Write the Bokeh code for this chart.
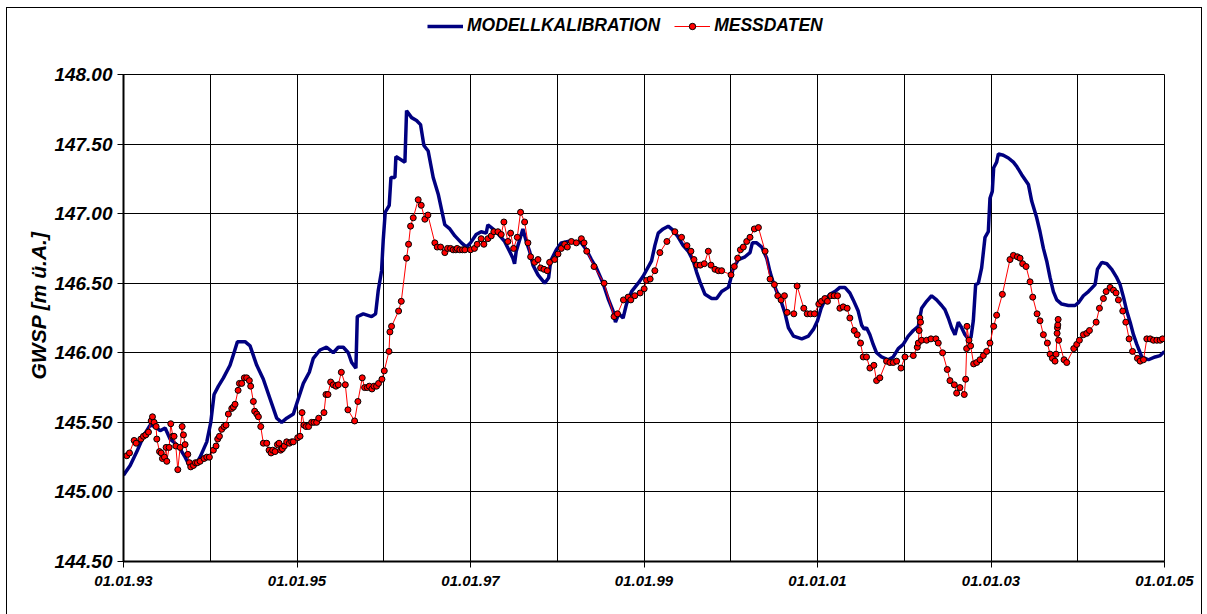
from bokeh.plotting import figure
from bokeh.layouts import column
from bokeh.models import FixedTicker, Legend, LegendItem, PrintfTickFormatter, Title
from bokeh.embed import file_html
from bokeh.resources import INLINE

# Groundwater level (GWSP) – calibrated model vs. measured values, 1993-2005
model_year = [
    1993.000, 1993.077, 1993.154, 1993.230, 1993.307, 1993.365, 1993.422, 1993.480,
    1993.537, 1993.595, 1993.653, 1993.710, 1993.768, 1993.825, 1993.883, 1993.960,
    1994.006, 1994.044, 1994.094, 1994.152, 1994.228, 1994.274, 1994.313, 1994.401,
    1994.459, 1994.536, 1994.612, 1994.689, 1994.766, 1994.823, 1994.881, 1994.958,
    1995.015, 1995.073, 1995.142, 1995.188, 1995.265, 1995.342, 1995.418, 1995.476,
    1995.534, 1995.591, 1995.630, 1995.679, 1995.695, 1995.764, 1995.860, 1995.906,
    1995.937, 1995.975, 1995.994, 1996.017, 1996.063, 1996.083, 1996.129, 1996.140,
    1996.244, 1996.263, 1996.321, 1996.378, 1996.424, 1996.463, 1996.512, 1996.570,
    1996.628, 1996.704, 1996.762, 1996.820, 1996.896, 1996.954, 1997.000, 1997.065,
    1997.123, 1997.181, 1997.200, 1997.258, 1997.296, 1997.354, 1997.393, 1997.450,
    1997.489, 1997.508, 1997.527, 1997.566, 1997.604, 1997.643, 1997.681, 1997.720,
    1997.778, 1997.855, 1997.901, 1997.924, 1997.989, 1998.047, 1998.124, 1998.201,
    1998.278, 1998.336, 1998.394, 1998.451, 1998.528, 1998.586, 1998.644, 1998.671,
    1998.709, 1998.759, 1998.798, 1998.856, 1998.933, 1998.990, 1999.087, 1999.125,
    1999.164, 1999.221, 1999.279, 1999.337, 1999.395, 1999.452, 1999.510, 1999.568,
    1999.606, 1999.645, 1999.703, 1999.780, 1999.837, 1999.895, 1999.972, 1999.991,
    2000.030, 2000.088, 2000.165, 2000.222, 2000.249, 2000.299, 2000.357, 2000.415,
    2000.453, 2000.492, 2000.530, 2000.580, 2000.627, 2000.665, 2000.723, 2000.819,
    2000.896, 2000.954, 2001.000, 2001.042, 2001.085, 2001.142, 2001.200, 2001.258,
    2001.315, 2001.373, 2001.412, 2001.469, 2001.508, 2001.538, 2001.565, 2001.604,
    2001.642, 2001.681, 2001.738, 2001.815, 2001.873, 2001.931, 2001.988, 2002.046,
    2002.104, 2002.162, 2002.200, 2002.258, 2002.315, 2002.373, 2002.431, 2002.469,
    2002.508, 2002.546, 2002.585, 2002.623, 2002.662, 2002.700, 2002.738, 2002.769,
    2002.796, 2002.823, 2002.854, 2002.892, 2002.931, 2002.969, 2002.988, 2003.015,
    2003.031, 2003.065, 2003.085, 2003.142, 2003.200, 2003.258, 2003.296, 2003.354,
    2003.431, 2003.469, 2003.527, 2003.565, 2003.604, 2003.642, 2003.681, 2003.719,
    2003.758, 2003.815, 2003.892, 2003.969, 2004.008, 2004.065, 2004.123, 2004.200,
    2004.227, 2004.277, 2004.335, 2004.392, 2004.450, 2004.488, 2004.527, 2004.565,
    2004.604, 2004.642, 2004.681, 2004.738, 2004.815, 2004.892, 2004.950, 2005.000,
]
model_level = [
    145.12, 145.19, 145.29, 145.40, 145.48, 145.47, 145.44, 145.46,
    145.38, 145.35, 145.31, 145.25, 145.18, 145.19, 145.25, 145.36,
    145.50, 145.70, 145.76, 145.82, 145.91, 146.00, 146.08, 146.08,
    146.05, 145.91, 145.81, 145.67, 145.53, 145.50, 145.53, 145.56,
    145.67, 145.78, 145.86, 145.96, 146.02, 146.04, 146.00, 146.04,
    146.04, 146.00, 145.93, 145.89, 146.26, 146.28, 146.26, 146.28,
    146.45, 146.59, 146.81, 147.01, 147.06, 147.26, 147.26, 147.41,
    147.37, 147.74, 147.69, 147.67, 147.64, 147.49, 147.45, 147.26,
    147.14, 146.92, 146.89, 146.84, 146.79, 146.76, 146.79, 146.85,
    146.87, 146.86, 146.92, 146.89, 146.87, 146.83, 146.80, 146.73,
    146.68, 146.64, 146.73, 146.81, 146.89, 146.80, 146.73, 146.63,
    146.56, 146.50, 146.54, 146.66, 146.74, 146.79, 146.80, 146.80,
    146.79, 146.74, 146.67, 146.61, 146.50, 146.39, 146.30, 146.22,
    146.28, 146.25, 146.35, 146.44, 146.50, 146.55, 146.66, 146.77,
    146.86, 146.89, 146.91, 146.88, 146.83, 146.77, 146.73, 146.66,
    146.58, 146.51, 146.42, 146.39, 146.39, 146.44, 146.47, 146.51,
    146.61, 146.67, 146.69, 146.72, 146.79, 146.79, 146.76, 146.68,
    146.58, 146.50, 146.44, 146.37, 146.28, 146.18, 146.12, 146.10,
    146.12, 146.17, 146.23, 146.32, 146.38, 146.42, 146.44, 146.47,
    146.47, 146.43, 146.38, 146.30, 146.20, 146.17, 146.18, 146.13,
    146.06, 146.00, 145.97, 145.95, 145.97, 146.03, 146.06, 146.12,
    146.16, 146.19, 146.32, 146.37, 146.41, 146.38, 146.34, 146.31,
    146.25, 146.18, 146.13, 146.22, 146.18, 146.13, 146.10, 146.11,
    146.23, 146.49, 146.50, 146.61, 146.83, 146.87, 147.11, 147.16,
    147.33, 147.37, 147.43, 147.42, 147.40, 147.37, 147.34, 147.28,
    147.21, 147.09, 146.97, 146.87, 146.75, 146.66, 146.54, 146.44,
    146.38, 146.35, 146.34, 146.34, 146.36, 146.41, 146.44, 146.49,
    146.60, 146.65, 146.64, 146.60, 146.54, 146.49, 146.40, 146.30,
    146.22, 146.13, 146.06, 145.97, 145.95, 145.97, 145.98, 146.01,
]

meas_year = [
    1993.038, 1993.069, 1993.123, 1993.146, 1993.200, 1993.230, 1993.257, 1993.288,
    1993.319, 1993.334, 1993.353, 1993.376, 1993.384, 1993.415, 1993.434, 1993.449,
    1993.472, 1993.491, 1993.499, 1993.526, 1993.545, 1993.568, 1993.583, 1993.603,
    1993.626, 1993.653, 1993.676, 1993.691, 1993.710, 1993.741, 1993.760, 1993.775,
    1993.806, 1993.829, 1993.852, 1993.883, 1993.929, 1993.960, 1993.990, 1994.036,
    1994.067, 1994.086, 1994.106, 1994.132, 1994.159, 1994.182, 1994.209, 1994.248,
    1994.267, 1994.286, 1994.321, 1994.336, 1994.363, 1994.393, 1994.420, 1994.451,
    1994.466, 1994.497, 1994.512, 1994.536, 1994.555, 1994.582, 1994.612, 1994.651,
    1994.678, 1994.701, 1994.720, 1994.747, 1994.774, 1994.793, 1994.812, 1994.831,
    1994.854, 1994.881, 1994.912, 1994.939, 1994.958, 1995.008, 1995.035, 1995.058,
    1995.081, 1995.104, 1995.134, 1995.169, 1995.196, 1995.226, 1995.250, 1995.311,
    1995.334, 1995.357, 1995.388, 1995.418, 1995.449, 1995.476, 1995.511, 1995.557,
    1995.587, 1995.664, 1995.702, 1995.752, 1995.779, 1995.810, 1995.833, 1995.864,
    1995.887, 1995.917, 1995.940, 1995.979, 1996.006, 1996.060, 1996.071, 1996.090,
    1996.171, 1996.202, 1996.263, 1996.286, 1996.309, 1996.340, 1996.397, 1996.432,
    1996.474, 1996.509, 1996.589, 1996.616, 1996.655, 1996.704, 1996.735, 1996.770,
    1996.800, 1996.831, 1996.846, 1996.877, 1996.908, 1996.935, 1997.000, 1997.046,
    1997.077, 1997.123, 1997.154, 1997.200, 1997.239, 1997.269, 1997.316, 1997.354,
    1997.385, 1997.431, 1997.462, 1997.497, 1997.539, 1997.577, 1997.624, 1997.662,
    1997.693, 1997.739, 1997.778, 1997.808, 1997.847, 1997.885, 1997.912, 1997.970,
    1998.009, 1998.047, 1998.086, 1998.116, 1998.163, 1998.220, 1998.278, 1998.309,
    1998.340, 1998.424, 1998.540, 1998.655, 1998.694, 1998.763, 1998.817, 1998.848,
    1998.894, 1998.956, 1999.002, 1999.029, 1999.071, 1999.125, 1999.183, 1999.264,
    1999.356, 1999.433, 1999.495, 1999.541, 1999.576, 1999.610, 1999.649, 1999.695,
    1999.741, 1999.772, 1999.818, 1999.857, 1999.895, 2000.003, 2000.041, 2000.080,
    2000.111, 2000.145, 2000.184, 2000.222, 2000.272, 2000.319, 2000.396, 2000.453,
    2000.503, 2000.542, 2000.580, 2000.619, 2000.650, 2000.727, 2000.765, 2000.842,
    2000.881, 2000.919, 2000.965, 2001.015, 2001.046, 2001.085, 2001.115, 2001.154,
    2001.192, 2001.231, 2001.258, 2001.296, 2001.342, 2001.373, 2001.423, 2001.458,
    2001.496, 2001.527, 2001.565, 2001.604, 2001.650, 2001.681, 2001.719, 2001.796,
    2001.835, 2001.873, 2001.912, 2001.962, 2002.008, 2002.104, 2002.150, 2002.162,
    2002.172, 2002.180, 2002.188, 2002.200, 2002.258, 2002.308, 2002.365, 2002.392,
    2002.442, 2002.496, 2002.527, 2002.577, 2002.604, 2002.642, 2002.692, 2002.708,
    2002.719, 2002.723, 2002.746, 2002.765, 2002.800, 2002.835, 2002.873, 2002.912,
    2002.950, 2002.988, 2003.031, 2003.065, 2003.131, 2003.219, 2003.258, 2003.304,
    2003.335, 2003.365, 2003.404, 2003.450, 2003.481, 2003.531, 2003.565, 2003.604,
    2003.650, 2003.681, 2003.708, 2003.738, 2003.750, 2003.762, 2003.766, 2003.770,
    2003.774, 2003.780, 2003.842, 2003.873, 2003.954, 2003.988, 2004.019, 2004.065,
    2004.104, 2004.135, 2004.212, 2004.250, 2004.296, 2004.327, 2004.373, 2004.412,
    2004.442, 2004.469, 2004.519, 2004.554, 2004.592, 2004.631, 2004.688, 2004.719,
    2004.758, 2004.796, 2004.835, 2004.873, 2004.912, 2004.950, 2004.977,
]
meas_level = [
    145.26, 145.28, 145.37, 145.35, 145.38, 145.40, 145.41, 145.43,
    145.51, 145.54, 145.50, 145.47, 145.38, 145.29, 145.28, 145.24,
    145.25, 145.32, 145.22, 145.32, 145.49, 145.40, 145.40, 145.33,
    145.16, 145.32, 145.47, 145.41, 145.34, 145.27, 145.21, 145.18,
    145.19, 145.21, 145.21, 145.22, 145.24, 145.25, 145.25, 145.30,
    145.33, 145.38, 145.40, 145.45, 145.47, 145.48, 145.56, 145.60,
    145.61, 145.63, 145.73, 145.78, 145.78, 145.82, 145.82, 145.80,
    145.76, 145.65, 145.58, 145.56, 145.54, 145.47, 145.35, 145.35,
    145.30, 145.28, 145.30, 145.29, 145.34, 145.35, 145.30, 145.31,
    145.33, 145.36, 145.35, 145.36, 145.36, 145.39, 145.40, 145.57,
    145.48, 145.47, 145.47, 145.50, 145.50, 145.50, 145.53, 145.57,
    145.70, 145.70, 145.79, 145.77, 145.76, 145.77, 145.86, 145.77,
    145.59, 145.51, 145.65, 145.82, 145.75, 145.75, 145.76, 145.74,
    145.76, 145.76, 145.78, 145.81, 145.87, 146.01, 146.15, 146.19,
    146.30, 146.37, 146.68, 146.78, 146.91, 146.97, 147.10, 147.06,
    146.96, 146.99, 146.79, 146.76, 146.76, 146.72, 146.75, 146.75,
    146.74, 146.74, 146.75, 146.74, 146.74, 146.74, 146.74, 146.75,
    146.78, 146.82, 146.78, 146.82, 146.84, 146.87, 146.87, 146.85,
    146.94, 146.80, 146.86, 146.75, 146.83, 147.01, 146.94, 146.79,
    146.69, 146.65, 146.67, 146.61, 146.60, 146.59, 146.65, 146.67,
    146.71, 146.75, 146.78, 146.76, 146.80, 146.79, 146.82, 146.79,
    146.73, 146.62, 146.50, 146.26, 146.28, 146.38, 146.40, 146.38,
    146.41, 146.43, 146.46, 146.52, 146.53, 146.59, 146.72, 146.80,
    146.87, 146.83, 146.77, 146.73, 146.67, 146.63, 146.63, 146.64,
    146.73, 146.63, 146.60, 146.59, 146.59, 146.56, 146.62, 146.68,
    146.74, 146.76, 146.80, 146.83, 146.89, 146.90, 146.73, 146.53,
    146.49, 146.41, 146.38, 146.41, 146.29, 146.28, 146.48, 146.32,
    146.28, 146.28, 146.28, 146.35, 146.37, 146.39, 146.37, 146.41,
    146.41, 146.41, 146.32, 146.33, 146.32, 146.25, 146.16, 146.13,
    146.07, 145.97, 145.97, 145.89, 145.91, 145.80, 145.82, 145.94,
    145.93, 145.93, 145.94, 145.89, 145.97, 145.98, 146.04, 146.07,
    146.16, 146.25, 146.22, 146.09, 146.09, 146.10, 146.10, 146.07,
    146.00, 145.88, 145.80, 145.77, 145.71, 145.75, 145.70, 145.81,
    146.03, 146.19, 146.09, 146.05, 145.92, 145.93, 145.95, 145.98,
    146.01, 146.07, 146.19, 146.27, 146.42, 146.67, 146.70, 146.69,
    146.68, 146.64, 146.62, 146.51, 146.40, 146.28, 146.23, 146.13,
    146.07, 145.99, 145.96, 145.94, 145.99, 146.14, 146.18, 146.20,
    146.24, 146.09, 145.95, 145.93, 146.03, 146.06, 146.09, 146.13,
    146.14, 146.16, 146.22, 146.32, 146.39, 146.44, 146.47, 146.45,
    146.43, 146.38, 146.30, 146.22, 146.10, 146.01, 145.96, 145.94,
    145.95, 146.10, 146.10, 146.09, 146.09, 146.09, 146.10,
]

# Axis ticks: labelled every second year, grid lines every year
label_years = [1993, 1995, 1997, 1999, 2001, 2003, 2005]
x_tick_labels = ["01.01.93", "01.01.95", "01.01.97", "01.01.99", "01.01.01", "01.01.03", "01.01.05"]
grid_years = list(range(1993, 2006))
y_ticks = [144.5, 145.0, 145.5, 146.0, 146.5, 147.0, 147.5, 148.0]
y_title = "GWSP [m ü.A.]"

FONT = "Liberation Sans"
MODEL_STYLE = dict(line_color="#000080", line_width=3.5)
MEAS_LINE_STYLE = dict(line_color="#ff0000", line_width=1)
MEAS_DOT_STYLE = dict(size=6, marker="circle", fill_color="#ff0000",
                      line_color="#000000", line_width=1)

# ---- main chart -------------------------------------------------------------
p = figure(
    width=1194, height=553,
    x_range=(1993, 2005), y_range=(144.5, 148.0),
    output_backend="svg", toolbar_location=None,
    min_border_left=116, min_border_right=37, min_border_top=12, min_border_bottom=54,
)
p.background_fill_color = "white"
p.border_fill_color = "white"
p.outline_line_color = "black"
p.outline_line_width = 1

p.line(model_year, model_level, **MODEL_STYLE)
p.line(meas_year, meas_level, **MEAS_LINE_STYLE)
p.scatter(meas_year, meas_level, **MEAS_DOT_STYLE)

p.xaxis.ticker = FixedTicker(ticks=label_years)
p.xaxis.major_label_overrides = dict(zip(label_years, x_tick_labels))
p.xgrid.ticker = FixedTicker(ticks=grid_years)
p.yaxis.ticker = FixedTicker(ticks=y_ticks)
p.yaxis.formatter = PrintfTickFormatter(format="%.2f")

for ax in (p.xaxis[0], p.yaxis[0]):
    ax.axis_line_width = 2
    ax.axis_line_color = "black"
    ax.major_tick_line_color = "black"
    ax.major_tick_line_width = 1
    ax.minor_tick_line_color = None
    ax.major_label_text_font = FONT
    ax.major_label_text_font_style = "bold italic"
    ax.major_label_text_color = "black"
p.xaxis.major_label_text_font_size = "15px"
p.yaxis.major_label_text_font_size = "19px"
p.xaxis.major_tick_in = 0
p.xaxis.major_tick_out = 6
p.xaxis.major_label_standoff = 8
p.yaxis.major_tick_in = 3
p.yaxis.major_tick_out = 6
p.yaxis.major_label_standoff = 5

# vertical axis title, set a little above the middle of the axis
p.add_layout(Title(text=y_title, align="left", offset=182, standoff=4,
                   text_font=FONT, text_font_style="bold italic",
                   text_font_size="21px", text_color="black"), "left")

for g in (p.xgrid[0], p.ygrid[0]):
    g.grid_line_color = "black"
    g.grid_line_width = 1

# ---- legend strip above the chart -------------------------------------------
top = figure(
    width=1194, height=54, x_range=(0, 1), y_range=(0, 1),
    output_backend="svg", toolbar_location=None,
    min_border_left=0, min_border_right=0, min_border_top=0, min_border_bottom=0,
)
top.axis.visible = False
top.grid.visible = False
top.outline_line_color = None
top.background_fill_color = "white"
top.border_fill_color = "white"
# key renderers carry the series' first point, which lies outside this strip's range
key_model = top.line(model_year[:1], model_level[:1], **MODEL_STYLE)
key_meas_line = top.line(meas_year[:1], meas_level[:1], **MEAS_LINE_STYLE)
key_meas_dots = top.scatter(meas_year[:1], meas_level[:1], **MEAS_DOT_STYLE)

legend = Legend(
    items=[
        LegendItem(label="MODELLKALIBRATION", renderers=[key_model]),
        LegendItem(label="MESSDATEN", renderers=[key_meas_line, key_meas_dots]),
    ],
    location=(304, 26), orientation="horizontal",
    label_text_font=FONT, label_text_font_style="bold italic",
    label_text_font_size="17.5px", label_text_color="black",
    glyph_width=36, glyph_height=16, label_standoff=4, spacing=14,
    padding=4, margin=0, border_line_color=None, background_fill_alpha=0,
)
top.add_layout(legend)

layout = column(
    top, p, spacing=0, margin=(7, 0, 0, 6),
    styles={"border-top": "1px solid #000", "border-left": "1px solid #000",
            "border-right": "1px solid #000"},
)

open("out.html", "w").write(file_html(layout, INLINE))
